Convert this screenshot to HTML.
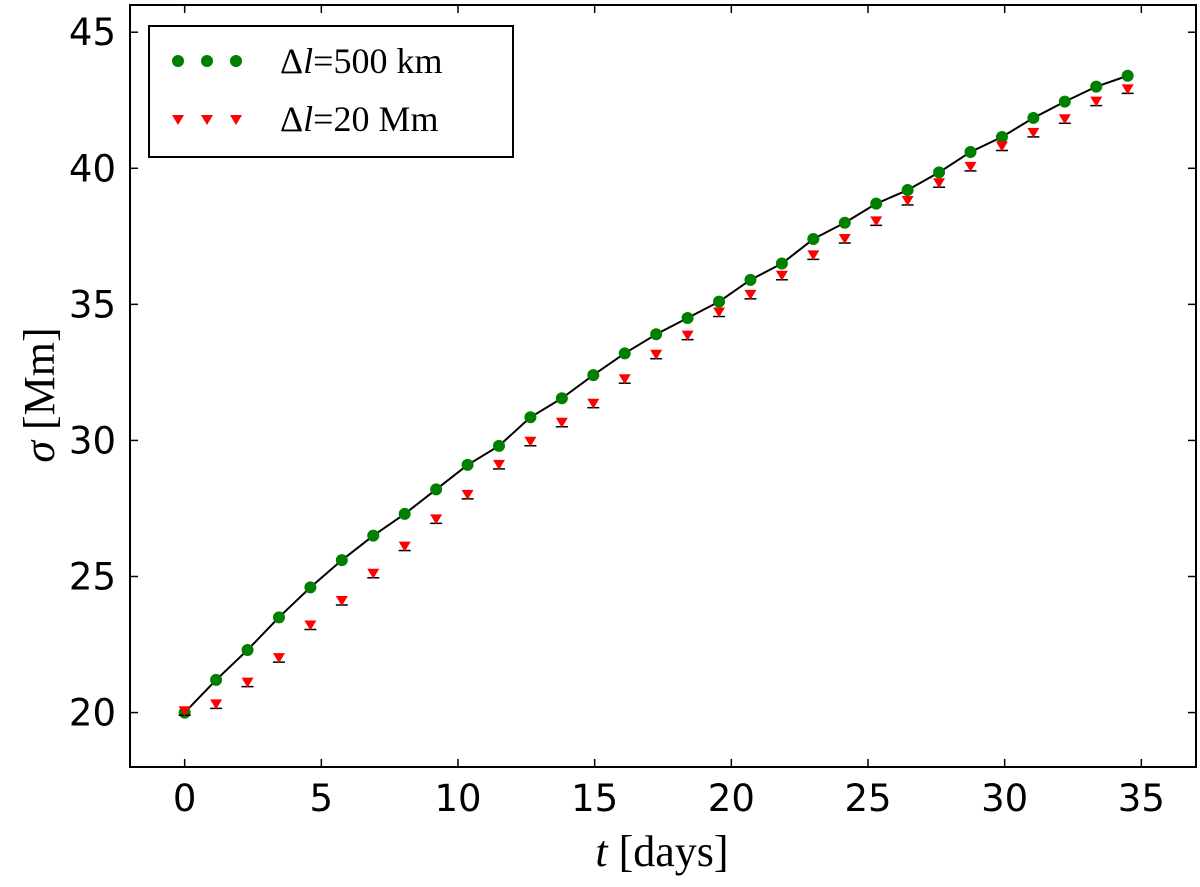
<!DOCTYPE html>
<html><head><meta charset="utf-8"><style>
body{margin:0;background:#fff}
.tk{font-family:"DejaVu Sans","Liberation Sans",sans-serif}
.sf{font-family:"Liberation Serif","DejaVu Serif",serif}
</style></head><body>
<svg id="chart" width="1200" height="882">
<g id="plot"></g>
</svg>
<script>
const xTicks=[0,5,10,15,20,25,30,35];
const yTicks=[20,25,30,35,40,45];
const tDays=[0,1.15,2.3,3.45,4.6,5.75,6.9,8.05,9.2,10.35,11.5,12.65,13.8,14.95,16.1,17.25,18.4,19.55,20.7,21.85,23,24.15,25.3,26.45,27.6,28.75,29.9,31.05,32.2,33.35,34.5];
const sigmaFine=[20.0,21.2,22.3,23.5,24.6,25.6,26.5,27.3,28.2,29.1,29.8,30.85,31.55,32.4,33.2,33.9,34.5,35.1,35.9,36.5,37.4,38.0,38.7,39.2,39.85,40.6,41.15,41.85,42.45,43.0,43.4];
const sigmaCoarse=[20.05,20.3,21.1,22.0,23.2,24.1,25.1,26.1,27.1,28.0,29.1,29.95,30.65,31.35,32.25,33.15,33.85,34.7,35.35,36.05,36.8,37.4,38.05,38.8,39.45,40.05,40.8,41.3,41.8,42.45,42.9];
const L=130,R=1196,T=5,B=767,x0=-2,x1=37,y0=18,y1=46;
const X=v=>L+(v-x0)/(x1-x0)*(R-L);
const Y=v=>B-(v-y0)/(y1-y0)*(B-T);
const NS="http://www.w3.org/2000/svg";
const g=document.getElementById('plot');
function mk(tag,attrs,parent){const e=document.createElementNS(NS,tag);for(const k in attrs)e.setAttribute(k,attrs[k]);(parent||g).appendChild(e);return e;}
let e;
e=mk('rect',{x:L,y:T,width:R-L,height:B-T,fill:'none',stroke:'#000','stroke-width':2});


xTicks.forEach(v=>{
  e=mk('line',{x1:X(v),x2:X(v),y1:B,y2:B-8,stroke:'#000','stroke-width':1.5});
  
  
  mk('line',{x1:X(v),x2:X(v),y1:T,y2:T+8,stroke:'#000','stroke-width':1.5});
  e=mk('text',{x:X(v),y:B+44,'font-size':37,'text-anchor':'middle',class:'tk'});e.textContent=v;
  
  
});
yTicks.forEach(v=>{
  e=mk('line',{x1:L,x2:L+8,y1:Y(v),y2:Y(v),stroke:'#000','stroke-width':1.5});
  
  
  mk('line',{x1:R,x2:R-8,y1:Y(v),y2:Y(v),stroke:'#000','stroke-width':1.5});
  e=mk('text',{x:L-14,y:Y(v)+13,'font-size':37,'text-anchor':'end',class:'tk'});e.textContent=v;
  
  
});
e=mk('polyline',{points:tDays.map((t,i)=>X(t)+','+Y(sigmaFine[i])).join(' '),fill:'none',stroke:'#000','stroke-width':2,'stroke-linejoin':'round'});


tDays.forEach((t,i)=>{
  e=mk('circle',{cx:X(t),cy:Y(sigmaFine[i]),r:6,fill:'#008000'});
  
  
  const cx=X(t),cy=Y(sigmaCoarse[i]);
  mk('line',{x1:cx-6,x2:cx+6,y1:cy+4,y2:cy+4,stroke:'#000','stroke-width':1.5});
  e=mk('polygon',{points:`${cx-6},${cy-5} ${cx+6},${cy-5} ${cx},${cy+5}`,fill:'#f00'});
  
  
});
e=mk('rect',{x:149,y:26,width:364,height:131,fill:'#fff',stroke:'#000','stroke-width':2});


[178,207,236].forEach(x=>{mk('circle',{cx:x,cy:61,r:6,fill:'#008000'});
  mk('polygon',{points:`${x-6},${115} ${x+6},${115} ${x},${125}`,fill:'#f00'});});
e=mk('text',{x:280,y:73,'font-size':36,class:'sf'});e.innerHTML='Δ<tspan font-style="italic">l</tspan>=500 km';


e=mk('text',{x:280,y:131,'font-size':36,class:'sf'});e.innerHTML='Δ<tspan font-style="italic">l</tspan>=20 Mm';


e=mk('text',{x:662,y:866,'font-size':44,'text-anchor':'middle',class:'sf'});e.innerHTML='<tspan font-style="italic">t</tspan> [days]';


e=mk('text',{x:0,y:0,'font-size':44,'text-anchor':'middle',class:'sf',transform:'translate(54,395) rotate(-90)'});e.innerHTML='<tspan font-style="italic">σ</tspan> [Mm]';


</script>
</body></html>
